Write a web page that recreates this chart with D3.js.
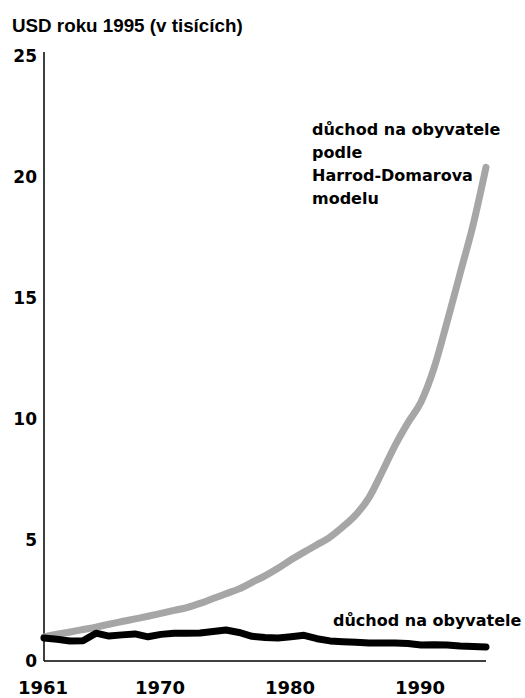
<!DOCTYPE html>
<meta charset="utf-8">
<style>
    body { margin: 0; background: #fff; }
    .line { fill: none; stroke-linejoin: round; stroke-linecap: round; }
    .tick-label { font: bold 17px "DejaVu Sans", sans-serif; fill: #000; }
    .note { font: bold 16px "DejaVu Sans", sans-serif; fill: #000; }
</style>
<svg width="525" height="698"></svg>
<script src="https://d3js.org/d3.v7.min.js"></script>
<script>

    // data (thousands of 1995 USD)
    var years = d3.range(1961, 1996);
    var harrodDomar = [1.0, 1.11, 1.2, 1.3, 1.4, 1.52, 1.63, 1.74, 1.85, 1.97,
        2.09, 2.21, 2.38, 2.58, 2.78, 2.98, 3.25, 3.52, 3.83, 4.18,
        4.5, 4.8, 5.12, 5.55, 6.05, 6.75, 7.8, 8.9, 9.85, 10.7,
        12.1, 14.0, 16.0, 18.0, 20.4];
    var actual = [0.95, 0.9, 0.83, 0.84, 1.15, 1.03, 1.08, 1.12, 1.0, 1.1,
        1.15, 1.15, 1.16, 1.22, 1.28, 1.18, 1.02, 0.97, 0.95, 1.0,
        1.06, 0.92, 0.83, 0.8, 0.77, 0.74, 0.74, 0.74, 0.72, 0.66,
        0.67, 0.66, 0.62, 0.6, 0.58];
    var yTicks = [0, 5, 10, 15, 20, 25];
    var xTickLabels = [1961, 1970, 1980, 1990];

    var svg = d3.select("svg");

    var x = d3.scaleLinear().domain([1961, 1995]).range([44, 486]);
    var y = d3.scaleLinear().domain([0, 25]).range([661, 56]);

    // axes
    svg.append("line")
        .attr("x1", x(1961)).attr("x2", x(1961))
        .attr("y1", y(25) - 4).attr("y2", y(0))
        .attr("stroke", "#000").attr("stroke-width", 1.5);
    svg.append("line")
        .attr("x1", x(1961)).attr("x2", x(1995))
        .attr("y1", y(0)).attr("y2", y(0))
        .attr("stroke", "#000").attr("stroke-width", 1.5);

    svg.selectAll(".ylab")
        .data(yTicks)
        .enter().append("text")
        .attr("class", "tick-label")
        .attr("x", 37)
        .attr("y", function (d) { return y(d); })
        .attr("dy", "0.36em")
        .attr("text-anchor", "end")
        .text(function (d) { return d; });

    svg.selectAll(".xlab")
        .data(xTickLabels)
        .enter().append("text")
        .attr("class", "tick-label")
        .style("font-size", "18px")
        .attr("x", function (d) { return x(d) - 1; })
        .attr("y", 694)
        .attr("text-anchor", "middle")
        .text(function (d) { return d; });

    svg.append("text")
        .attr("x", 12)
        .attr("y", 32)
        .style("font", "bold 18.8px 'Liberation Sans', Arial, sans-serif")
        .text("USD roku 1995 (v tisících)");

    var line = d3.line()
        .x(function (d) { return x(d.year); })
        .y(function (d) { return y(d.value); });

    var hd = years.map(function (yr, i) { return { year: yr, value: harrodDomar[i] }; });
    var ac = years.map(function (yr, i) { return { year: yr, value: actual[i] }; });

    svg.append("path")
        .datum(hd)
        .attr("class", "line")
        .attr("stroke", "#a6a6a6")
        .attr("stroke-width", 7)
        .attr("d", line.curve(d3.curveMonotoneX));

    svg.append("path")
        .datum(ac)
        .attr("class", "line")
        .attr("stroke", "#000")
        .attr("stroke-width", 7)
        .attr("d", line.curve(d3.curveLinear));

    // notes
    var note = svg.append("text").attr("class", "note");
    ["důchod na obyvatele", "podle", "Harrod-Domarova", "modelu"].forEach(function (t, i) {
        note.append("tspan")
            .attr("x", 312)
            .attr("y", 135 + i * 23)
            .text(t);
    });

    svg.append("text")
        .attr("class", "note")
        .attr("x", 333)
        .attr("y", 626)
        .text("důchod na obyvatele");

</script>
